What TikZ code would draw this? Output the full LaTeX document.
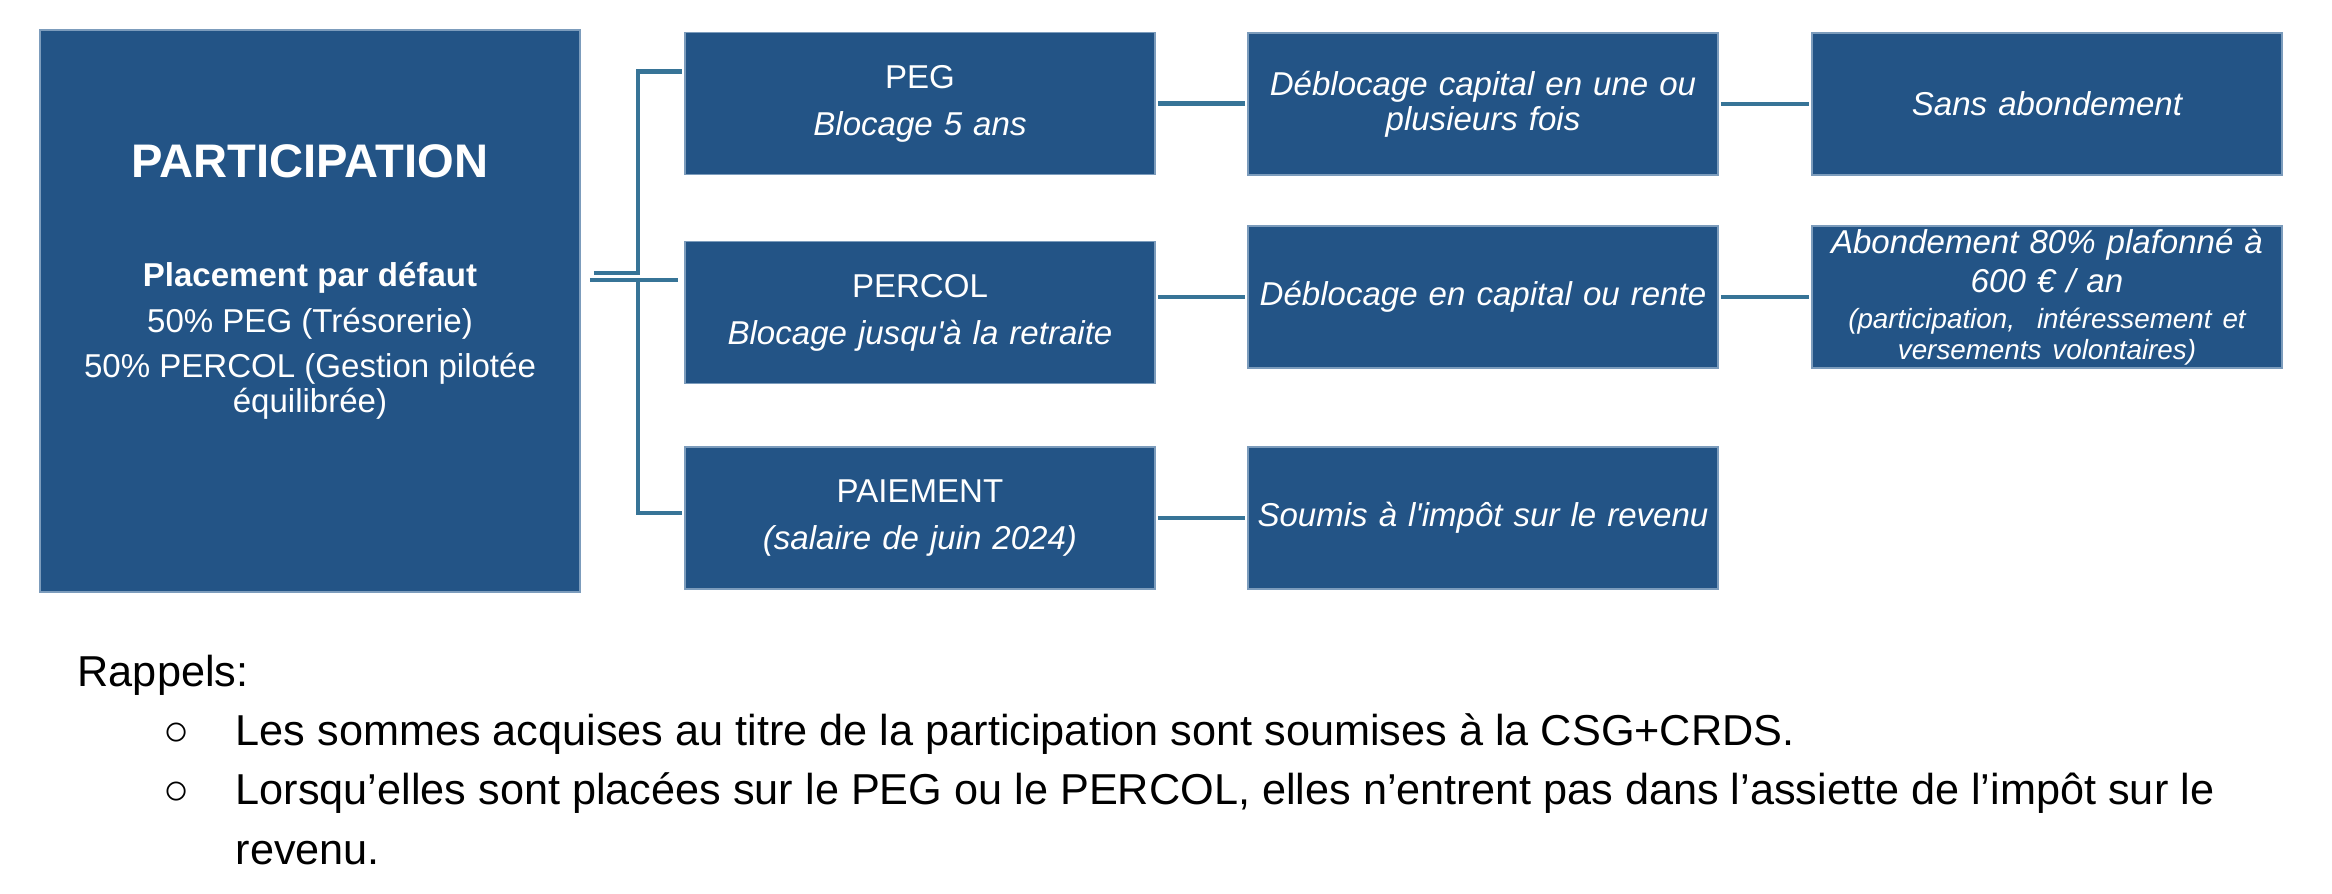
\documentclass[tikz,border=0pt]{standalone}
\usepackage{fontspec}
\setmainfont{Liberation Sans}[Ligatures=TeXOff]
\usepackage{tikz}

\definecolor{boxblue}{HTML}{235486}
\definecolor{boxedge}{HTML}{7C9CBC}
\definecolor{linkblue}{HTML}{377497}

\tikzset{
  cell/.style={fill=boxblue, draw=boxedge, line width=0.4pt, text=white,
    text width=4.56cm, inner xsep=0.07cm, inner ysep=0pt, minimum height=1.42cm,
    align=center, font=\fontsize{9.4}{10}\selectfont},
  cellit/.style={cell, font=\fontsize{9.4}{10}\selectfont\itshape},
  link/.style={draw=linkblue, line width=1.3pt, shorten <=0.6pt, shorten >=0.6pt},
  note/.style={font=\fontsize{12.3}{16.8}\selectfont, inner sep=0pt, anchor=base west},
}
\newcommand{\smalltxt}{\fontsize{7.9}{8.5}\selectfont}

\begin{document}
\begin{tikzpicture}[x=0.01cm, y=-0.01cm]
\useasboundingbox (0,0) rectangle (2332,894);

% main box
\node[cell, text width=5.26cm, minimum height=5.62cm] (part) at (310,311) {};
\node[text=white, font=\bfseries\fontsize{13.4}{15}\selectfont, inner sep=0pt, anchor=base]
  (parttitle) at (310,178) {PARTICIPATION};
\node[text=white, align=center, font=\fontsize{9.4}{10}\selectfont, inner sep=0pt]
  (partdesc) at (310,341) {\textbf{Placement par défaut}\\[3pt]50\% PEG (Trésorerie)\\[3pt]50\% PERCOL (Gestion pilotée\\équilibrée)};

% second column
\node[cell] (peg)    at (920,103.5) {PEG\\[3.4pt]\textit{Blocage 5 ans}};
\node[cell] (percol) at (920,312.5) {PERCOL\\[3.4pt]\textit{Blocage jusqu'à la retraite}};
\node[cell] (paie)   at (920,518)   {PAIEMENT\\[3.4pt]\textit{(salaire de juin 2024)}};

% third column
\node[cellit] (deb1)  at (1483,104) {Déblocage capital en une ou\\plusieurs fois};
\node[cellit] (deb2)  at (1483,297) {Déblocage en capital ou rente};
\node[cellit] (impot) at (1483,518) {Soumis à l'impôt sur le revenu};

% fourth column
\node[cellit] (sans)  at (2047,104) {Sans abondement};
\node[cellit] (abond) at (2047,297) {Abondement 80\% plafonné à\\[1.2pt]600 € / an\\{\smalltxt (participation,\ \ intéressement et}\\[-1.2pt]{\smalltxt versements volontaires)}};

% fork on the left
\coordinate (fork) at (638,280);
\coordinate (pegin) at ([shift={(0,-32)}]peg.west);
\coordinate (percolin) at ([shift={(-4,-32.5)}]percol.west);
\coordinate (paiein) at ([shift={(0,-5)}]paie.west);
\draw[link] ([shift={(11,-38)}]part.east) -| (fork |- pegin) -- (pegin);
\draw[link] ([shift={(7,-31)}]part.east) -- (percolin);
\draw[link] (fork) |- (paiein);

% links to the right
\draw[link] (peg.east) -- (peg.east -| deb1.west);
\draw[link] (deb2.west -| percol.east) -- (deb2.west);
\draw[link] (paie.east) -- (impot.west);
\draw[link] (deb1.east) -- (deb1.east -| sans.west);
\draw[link] (deb2.east) -- (deb2.east -| abond.west);

% notes below
\node[note] (rappels) at (77,686) {Rappels:};
\node[note, anchor=base] (dot1) at (177,745) {○};
\node[note] (item1) at (235,745) {Les sommes acquises au titre de la participation sont soumises à la CSG+CRDS.};
\node[note, anchor=base] (dot2) at (177,804) {○};
\node[note] (item2) at (235,804) {Lorsqu’elles sont placées sur le PEG ou le PERCOL, elles n’entrent pas dans l’assiette de l’impôt sur le};
\node[note] (item2b) at (235,864) {revenu.};
\end{tikzpicture}
\end{document}
